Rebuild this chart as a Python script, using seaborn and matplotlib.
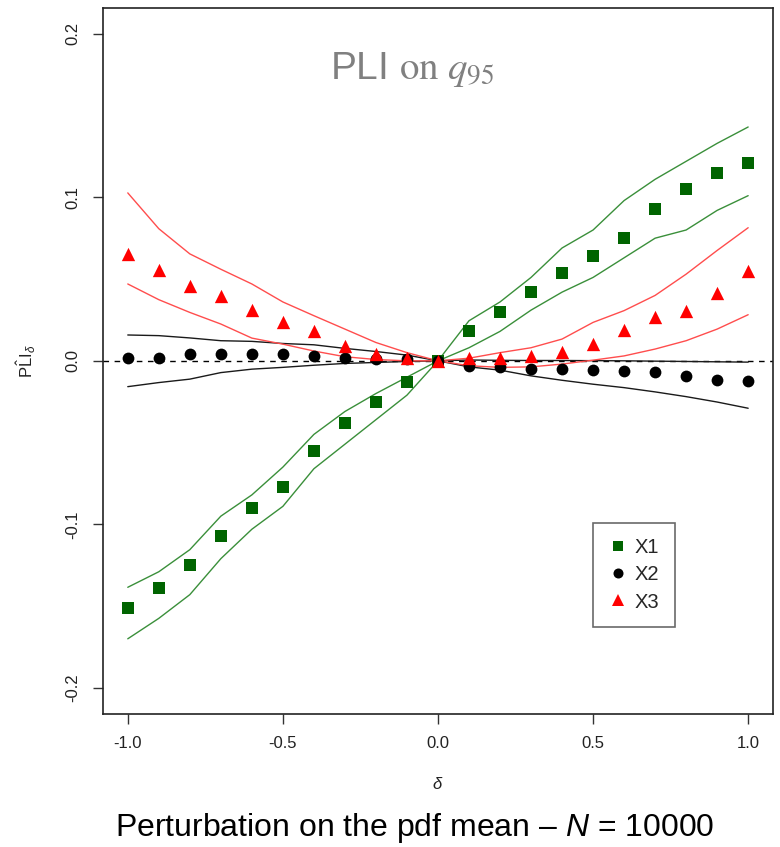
import numpy as np
import pandas as pd
import matplotlib
matplotlib.use("Agg")
import matplotlib.pyplot as plt
from matplotlib.lines import Line2D
import seaborn as sns

# Perturbation levels on the input pdf mean
delta = [-1.0, -0.9, -0.8, -0.7, -0.6, -0.5, -0.4, -0.3, -0.2, -0.1, 0.0,
         0.1, 0.2, 0.3, 0.4, 0.5, 0.6, 0.7, 0.8, 0.9, 1.0]

# Estimated PLI on the 95% quantile, with lower / upper bounds
x1_pli = [-0.151, -0.139, -0.125, -0.107, -0.090, -0.077, -0.055, -0.038, -0.025, -0.013, 0.0,
          0.018, 0.030, 0.042, 0.054, 0.064, 0.075, 0.093, 0.105, 0.115, 0.121]
x1_upper = [-0.1385, -0.129, -0.1155, -0.095, -0.082, -0.065, -0.045, -0.031, -0.020, -0.010, 0.0,
            0.0245, 0.036, 0.051, 0.069, 0.080, 0.098, 0.111, 0.122, 0.133, 0.143]
x1_lower = [-0.170, -0.1575, -0.143, -0.121, -0.103, -0.089, -0.066, -0.051, -0.036, -0.021, 0.0,
            0.008, 0.018, 0.031, 0.042, 0.051, 0.063, 0.075, 0.080, 0.092, 0.101]

x2_pli = [0.002, 0.002, 0.004, 0.004, 0.004, 0.004, 0.003, 0.002, 0.001, 0.001, 0.0,
          -0.003, -0.004, -0.005, -0.005, -0.0055, -0.0065, -0.0067, -0.0094, -0.012, -0.0123]
x2_upper = [0.0158, 0.0154, 0.014, 0.0123, 0.0119, 0.0106, 0.0098, 0.0076, 0.0057, 0.0035, 0.0,
            0.0005, 0.0003, 0.0002, 0.0002, 0.0001, 0.0, -0.0002, -0.0004, -0.0006, -0.0008]
x2_lower = [-0.0158, -0.0133, -0.0112, -0.0072, -0.0051, -0.004, -0.0027, -0.0016, -0.001, -0.0004, 0.0,
            -0.0037, -0.0057, -0.0092, -0.0119, -0.0143, -0.0164, -0.019, -0.0219, -0.0252, -0.029]

x3_pli = [0.0654, 0.0558, 0.0456, 0.0399, 0.031, 0.0235, 0.0184, 0.0088, 0.004, 0.002, 0.0,
          0.0016, 0.0016, 0.003, 0.0057, 0.0102, 0.0188, 0.0266, 0.0307, 0.0413, 0.0552]
x3_upper = [0.1027, 0.0808, 0.0654, 0.056, 0.047, 0.036, 0.0276, 0.0194, 0.0112, 0.005, 0.0,
            0.0016, 0.005, 0.008, 0.0133, 0.0235, 0.0307, 0.040, 0.053, 0.0675, 0.0814]
x3_lower = [0.047, 0.0374, 0.0296, 0.0225, 0.0139, 0.0102, 0.006, 0.0025, 0.0008, 0.0, 0.0,
            -0.003, -0.004, -0.0037, -0.002, 0.0004, 0.003, 0.0072, 0.0123, 0.0194, 0.0282]

series_names = ["X1", "X2", "X3"]
x_ticks = [-1.0, -0.5, 0.0, 0.5, 1.0]
y_ticks = [-0.2, -0.1, 0.0, 0.1, 0.2]

sns.set_theme(style="white")
plt.rcParams["font.family"] = ["Liberation Sans", "DejaVu Sans"]
plt.rcParams["mathtext.fontset"] = "custom"
plt.rcParams["mathtext.rm"] = "Liberation Sans"
plt.rcParams["mathtext.it"] = "Liberation Sans:italic"
plt.rcParams["mathtext.sf"] = "Liberation Sans"

pli = {"X1": x1_pli, "X2": x2_pli, "X3": x3_pli}
upper = {"X1": x1_upper, "X2": x2_upper, "X3": x3_upper}
lower = {"X1": x1_lower, "X2": x2_lower, "X3": x3_lower}

points = pd.concat([pd.DataFrame({"delta": delta, "value": pli[k], "series": k})
                    for k in series_names], ignore_index=True)
bands = pd.concat([pd.DataFrame({"delta": delta, "value": b[k], "series": k, "bound": name})
                   for k in series_names for name, b in (("lower", lower), ("upper", upper))],
                  ignore_index=True)

marker_color = {"X1": "#006400", "X2": "#000000", "X3": "#ff0000"}
band_color = {"X1": "#3a8f3a", "X2": "#1a1a1a", "X3": "#ff4d4d"}
marker_shape = {"X1": "s", "X2": "o", "X3": "^"}
marker_area = {"X1": 72, "X2": 72, "X3": 92}

fig = plt.figure(figsize=(7.8, 8.47), dpi=100)
ax = fig.add_axes([0.132, 0.157, 0.859, 0.834])

# Reference line at zero
ax.axhline(0.0, color="black", lw=1.0, ls=(0, (4, 4)), zorder=1)

# Bounds of each input
for k in series_names:
    for name in ("lower", "upper"):
        sub = bands[(bands["series"] == k) & (bands["bound"] == name)]
        sns.lineplot(data=sub, x="delta", y="value", estimator=None, sort=False,
                     color=band_color[k], lw=1.0, ax=ax, zorder=2, legend=False)

# Point estimates
for k in series_names:
    sub = points[points["series"] == k]
    sns.scatterplot(data=sub, x="delta", y="value", marker=marker_shape[k],
                    color=marker_color[k], s=marker_area[k], linewidth=0,
                    ax=ax, zorder=3, legend=False)

ax.set_xlim(-1.08, 1.08)
ax.set_ylim(-0.216, 0.216)
ax.set_xticks(x_ticks)
ax.set_xticklabels([f"{v:.1f}" for v in x_ticks])
ax.set_yticks(y_ticks)
ax.set_yticklabels([f"{v:.1f}" for v in y_ticks], rotation=90, va="center")
ax.tick_params(axis="both", direction="out", length=7, width=1, colors="#333333",
               labelsize=12, labelcolor="#222222", pad=9, bottom=True, left=True)
for side in ax.spines.values():
    side.set_color("#222222")
    side.set_linewidth(1.2)

ax.set_xlabel(r"$\delta$", fontsize=12, color="#222222", labelpad=18)
ax.set_ylabel(r"$\hat{\mathrm{PLI}}_{\delta}$", fontsize=12, color="#222222", labelpad=20)

# Title inside the panel
ax.text(0.461, 0.912, r"PLI $\mathrm{on}\ q_{95}$", transform=ax.transAxes,
        ha="center", va="center", fontsize=28, color="#808080", math_fontfamily="stix")

handles = [Line2D([], [], ls="none", marker=marker_shape[k], color=marker_color[k],
                  markersize=np.sqrt(marker_area[k]) * 0.85, markeredgewidth=0)
           for k in series_names]
leg = ax.legend(handles, series_names, loc="upper left", bbox_to_anchor=(0.731, 0.270),
                borderaxespad=0, frameon=True, fancybox=False, fontsize=14.5,
                handlelength=1.0, handletextpad=0.35, labelspacing=0.4, borderpad=0.75)
leg.get_frame().set_edgecolor("#444444")
leg.get_frame().set_linewidth(1.2)

fig.text(0.532, 1 - 828 / 847, r"Perturbation on the pdf mean – $N$ = 10000",
         ha="center", va="center", fontsize=23, color="black")

fig.savefig("out.png", dpi=100)
